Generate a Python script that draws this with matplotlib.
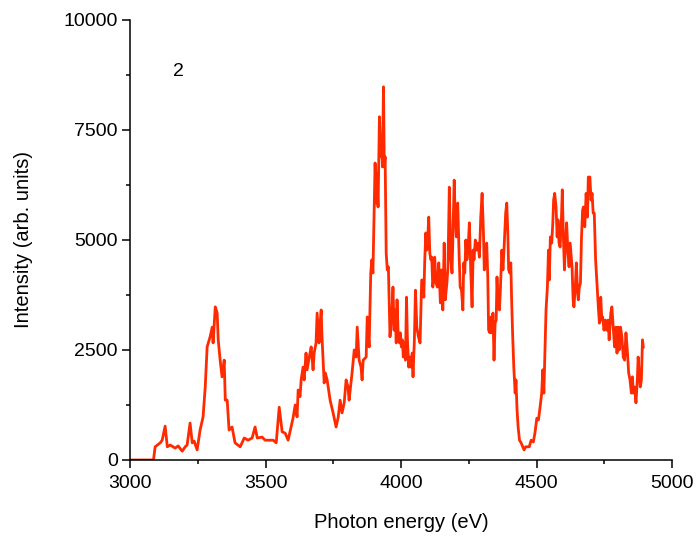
import matplotlib
matplotlib.use('Agg')
import matplotlib.pyplot as plt
from matplotlib.ticker import MultipleLocator

plt.rcParams['font.family'] = ['Liberation Sans', 'DejaVu Sans']

# photon energy (eV) and intensity (arb. units)
energy = [
    3000, 3086, 3092, 3111, 3118, 3129, 3137, 3148, 3166, 3177, 3192, 3203, 3210, 3221, 3229, 3236,
    3247, 3258, 3269, 3277, 3284, 3295, 3303, 3306, 3314, 3321, 3325, 3332, 3339, 3347, 3351, 3358,
    3362, 3365, 3376, 3387, 3406, 3421, 3435, 3450, 3461, 3469, 3487, 3498, 3513, 3528, 3539, 3550,
    3561, 3572, 3583, 3594, 3601, 3609, 3616, 3620, 3627, 3631, 3638, 3642, 3649, 3653, 3661, 3668,
    3675, 3679, 3686, 3690, 3697, 3701, 3705, 3708, 3716, 3720, 3727, 3738, 3749, 3760, 3768, 3775,
    3782, 3790, 3797, 3804, 3808, 3812, 3819, 3827, 3834, 3838, 3845, 3852, 3856, 3860, 3871, 3875,
    3882, 3888, 3892, 3896, 3904, 3908, 3910, 3915, 3920, 3925, 3929, 3931, 3935, 3938, 3941, 3945,
    3949, 3953, 3959, 3966, 3970, 3974, 3978, 3982, 3985, 3989, 3994, 3997, 4001, 4005, 4008, 4012,
    4016, 4020, 4023, 4028, 4033, 4037, 4041, 4044, 4049, 4053, 4058, 4064, 4070, 4076, 4080, 4084,
    4087, 4091, 4095, 4098, 4102, 4106, 4110, 4113, 4117, 4121, 4124, 4129, 4134, 4139, 4145, 4149,
    4154, 4159, 4163, 4169, 4173, 4178, 4183, 4188, 4196, 4199, 4204, 4209, 4214, 4218, 4223, 4228,
    4231, 4235, 4239, 4243, 4247, 4252, 4257, 4262, 4266, 4269, 4274, 4279, 4284, 4289, 4294, 4299,
    4304, 4307, 4311, 4316, 4320, 4323, 4328, 4332, 4336, 4339, 4343, 4347, 4351, 4354, 4358, 4363,
    4366, 4372, 4376, 4381, 4386, 4390, 4394, 4397, 4401, 4405, 4408, 4412, 4416, 4421, 4424, 4428,
    4432, 4437, 4443, 4449, 4454, 4460, 4466, 4473, 4480, 4488, 4494, 4501, 4507, 4513, 4519, 4523,
    4527, 4531, 4535, 4540, 4544, 4547, 4551, 4556, 4560, 4563, 4567, 4572, 4576, 4579, 4583, 4587,
    4592, 4595, 4599, 4603, 4606, 4611, 4616, 4620, 4624, 4627, 4631, 4635, 4638, 4643, 4647, 4651,
    4654, 4658, 4662, 4666, 4670, 4673, 4678, 4683, 4688, 4691, 4697, 4701, 4705, 4709, 4713, 4718,
    4723, 4728, 4732, 4737, 4741, 4744, 4749, 4754, 4759, 4764, 4768, 4774, 4778, 4783, 4788, 4793,
    4797, 4801, 4805, 4810, 4815, 4820, 4825, 4830, 4835, 4840, 4845, 4850, 4854, 4857, 4862, 4867,
    4872, 4875, 4879, 4883, 4887, 4891, 4894,
]
intensity = [
    0, 0, 300, 390, 450, 770, 300, 340, 270, 320, 200, 300, 340, 840, 390, 430,
    230, 680, 980, 1660, 2570, 2800, 3020, 2660, 3480, 3340, 2730, 2270, 1890, 2270, 1360, 1360,
    980, 680, 750, 390, 300, 500, 450, 500, 750, 500, 520, 450, 450, 450, 390, 1200,
    640, 610, 450, 750, 950, 1250, 980, 1590, 1440, 1820, 2110, 1820, 2430, 2050, 2340, 2570,
    2050, 2430, 2660, 3340, 2660, 3110, 3410, 2800, 1750, 1980, 1820, 1360, 1070, 750, 980, 1360,
    1070, 1300, 1820, 1660, 1360, 1590, 1980, 2500, 2340, 3020, 2270, 2110, 1820, 2270, 2340, 3250,
    2570, 4250, 4550, 4250, 6750, 5840, 6520, 5750, 7800, 6890, 7270, 6660, 8480, 6660, 6890, 4700,
    4320, 4390, 2800, 3340, 3930, 2950, 3410, 2660, 3640, 2890, 2660, 2890, 2570, 2730, 2340, 2660,
    2270, 3700, 2800, 2110, 2340, 2110, 2430, 1890, 2730, 3860, 3020, 2800, 2660, 4090, 4090, 3700,
    4480, 5160, 4770, 5000, 5520, 4700, 4550, 4610, 3930, 4160, 4610, 4020, 3930, 4480, 3570, 4320,
    3410, 4930, 3640, 4020, 4390, 6200, 4610, 4250, 6360, 5680, 5070, 5840, 4700, 3930, 3860, 3410,
    4480, 4250, 5000, 4550, 4770, 5390, 4320, 3480, 4770, 4550, 5000, 4770, 4930, 4610, 5520, 6060,
    5160, 4320, 4550, 4930, 4160, 2950, 2890, 3250, 2890, 3340, 2270, 3110, 3180, 4160, 3480, 3410,
    3800, 4770, 4320, 4930, 5610, 5840, 5160, 4320, 4250, 4480, 3640, 2800, 2110, 1520, 1820, 1140,
    750, 450, 390, 300, 230, 300, 300, 300, 450, 410, 610, 950, 910, 1200, 1520, 2050,
    1520, 2430, 3410, 3930, 4770, 4090, 5070, 4930, 5390, 5910, 6060, 5750, 5070, 5460, 4930, 4840,
    5520, 6140, 5070, 4320, 4840, 5390, 4700, 4390, 4930, 4700, 4390, 3640, 3480, 3930, 4480, 3860,
    3640, 3930, 4020, 5070, 5680, 5750, 5300, 6060, 5520, 6430, 6430, 5910, 6060, 5610, 5610, 4550,
    4020, 3480, 3110, 3700, 3180, 3250, 2950, 3180, 2950, 3180, 2730, 3340, 3480, 3020, 2570, 3020,
    2430, 3020, 2500, 3020, 2800, 2340, 2270, 2890, 2500, 1980, 1820, 1520, 1890, 1520, 1660, 1300,
    1820, 2340, 1980, 1660, 1820, 2730, 2570,
]

fig = plt.figure(figsize=(7, 5.37), dpi=100)
ax = fig.add_axes([0.186, 0.1434, 0.774, 0.8194])
ax.plot(energy, intensity, color='#ff2a00', linewidth=2.0)

ax.set_xlim(3000, 5000)
ax.set_ylim(0, 10000)
ax.xaxis.set_major_locator(MultipleLocator(500))
ax.xaxis.set_minor_locator(MultipleLocator(250))
ax.yaxis.set_major_locator(MultipleLocator(2500))
ax.yaxis.set_minor_locator(MultipleLocator(1250))
ax.tick_params(which='major', direction='out', length=6, width=1.1, labelsize=14, pad=3)
ax.tick_params(axis='x', which='major', pad=5)
ax.tick_params(which='minor', direction='out', length=3, width=1.1)

ax.spines['top'].set_visible(False)
ax.spines['right'].set_visible(False)
ax.spines['left'].set_linewidth(1.1)
ax.spines['bottom'].set_linewidth(1.1)

ax.set_xlabel('Photon energy (eV)', fontsize=14.5, labelpad=15)
ax.set_ylabel('Intensity (arb. units)', fontsize=14.5, labelpad=22)
ax.text(3177, 8820, '2', fontsize=14, ha='center', va='center')

fig.savefig('out.png', dpi=100)
